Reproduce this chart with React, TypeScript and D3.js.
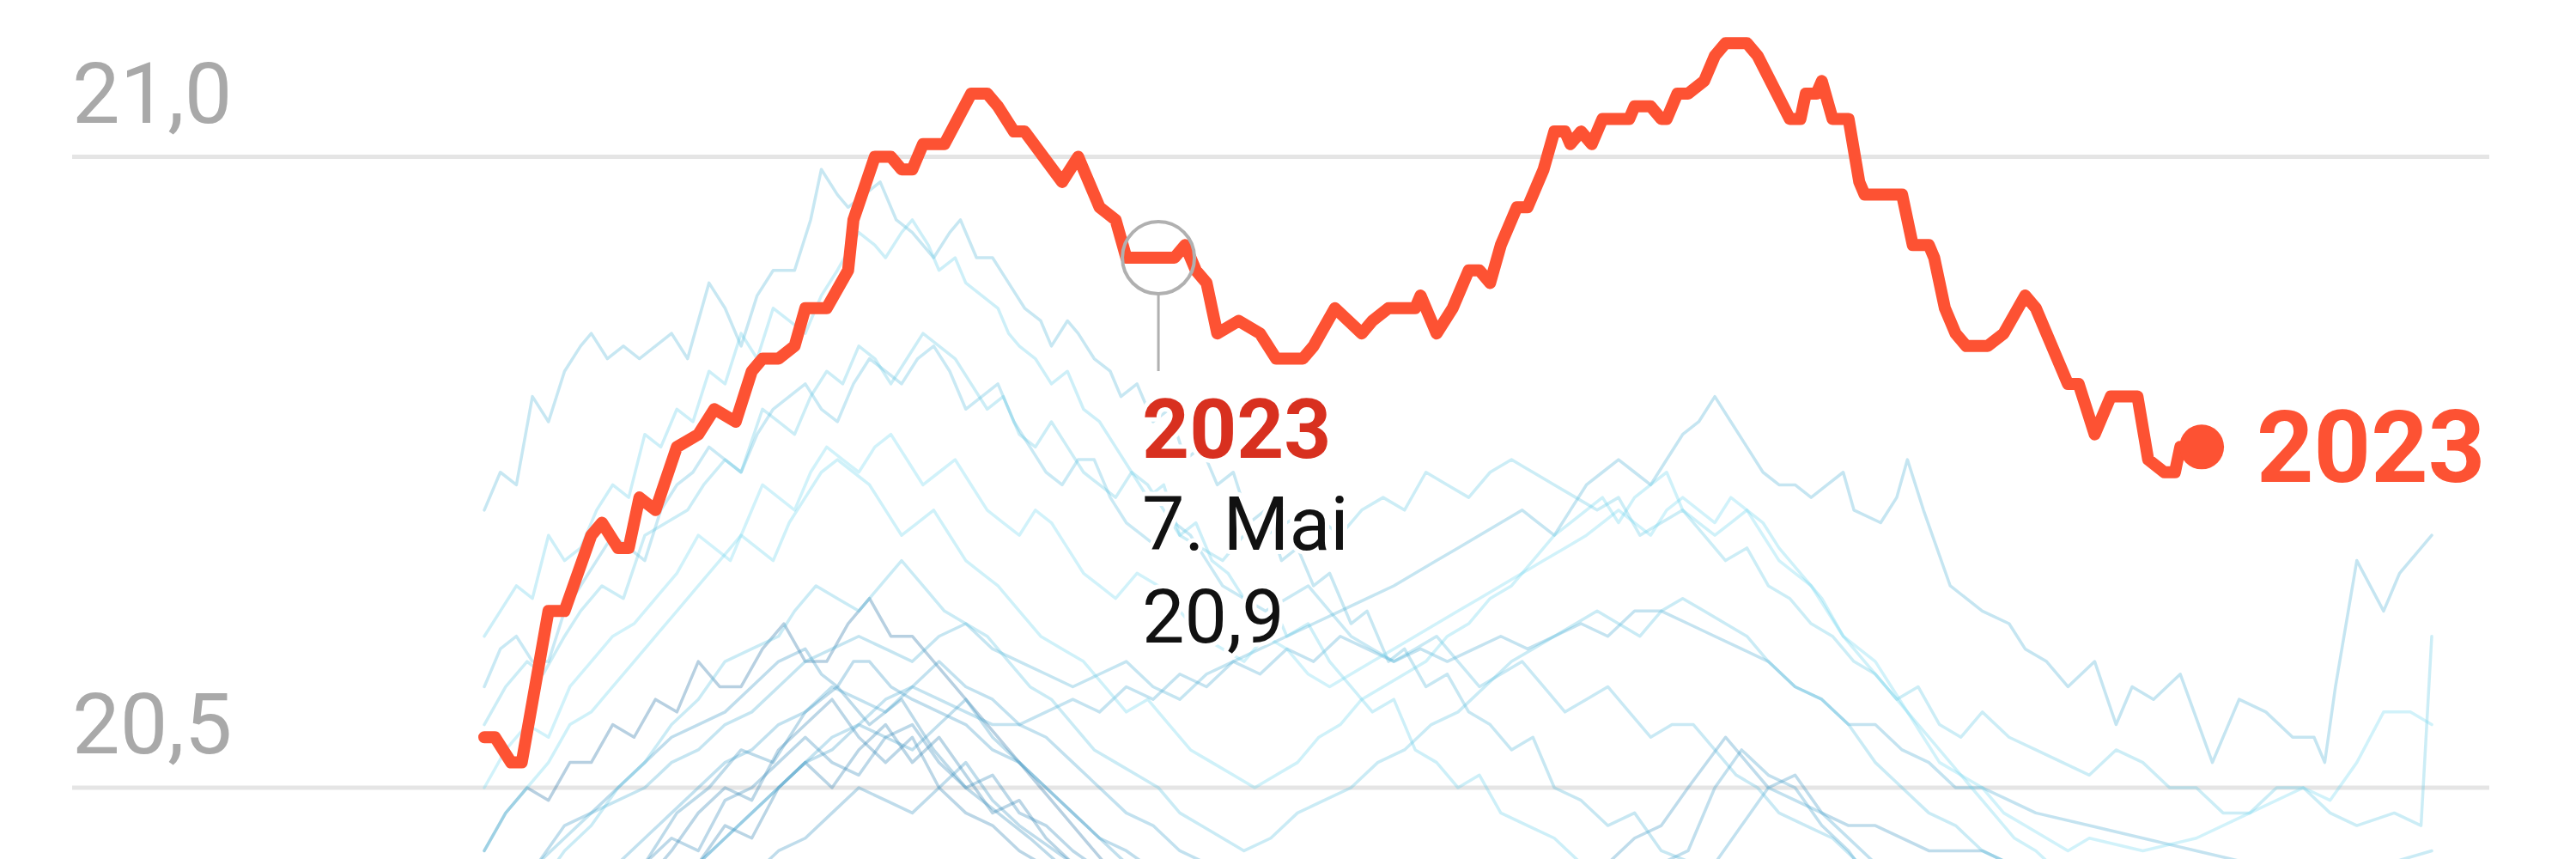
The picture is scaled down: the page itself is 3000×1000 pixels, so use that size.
import React from "react";
import * as d3 from "d3";

// ---------- data ----------
const yTickValues = [21.0, 20.5];
const yTickLabels = ["21,0", "20,5"];

// 2023 daily world sea surface temperature, [day of year (0 = 1 Jan), °C]
const series2023: [number, number][] = [
  [0, 20.54], [2, 20.54], [5, 20.52], [7, 20.52], [12, 20.64], [15, 20.64], [20, 20.7], [22, 20.71],
  [25, 20.69], [27, 20.69], [29, 20.73], [32, 20.72], [36, 20.77], [40, 20.78], [43, 20.8], [47, 20.79],
  [50, 20.83], [52, 20.84], [55, 20.84], [58, 20.85], [60, 20.88], [64, 20.88], [68, 20.91], [69, 20.95],
  [73, 21.0], [76, 21.0], [78, 20.99], [80, 20.99], [82, 21.01], [86, 21.01], [91, 21.05], [94, 21.05],
  [96, 21.04], [99, 21.02], [101, 21.02], [108, 20.98], [111, 21.0], [115, 20.96], [118, 20.95], [120, 20.92],
  [126, 20.92], [129, 20.92], [131, 20.93], [133, 20.91], [135, 20.9], [137, 20.86], [141, 20.87], [145, 20.86],
  [148, 20.84], [153, 20.84], [155, 20.85], [159, 20.88], [164, 20.86], [166, 20.87], [169, 20.88], [174, 20.88],
  [175, 20.89], [178, 20.86], [181, 20.88], [184, 20.91], [186, 20.91], [188, 20.9], [190, 20.93], [193, 20.96],
  [195, 20.96], [198, 20.99], [200, 21.02], [202, 21.02], [203, 21.01], [205, 21.02], [207, 21.01], [209, 21.03],
  [214, 21.03], [215, 21.04], [218, 21.04], [220, 21.03], [221, 21.03], [223, 21.05], [225, 21.05], [228, 21.06],
  [230, 21.08], [232, 21.09], [236, 21.09], [238, 21.08], [244, 21.03], [246, 21.03], [247, 21.05], [249, 21.05],
  [250, 21.06], [252, 21.03], [255, 21.03], [257, 20.98], [258, 20.97], [265, 20.97], [267, 20.93], [270, 20.93],
  [271, 20.92], [273, 20.88], [275, 20.86], [277, 20.85], [281, 20.85], [284, 20.86], [288, 20.89], [290, 20.88],
  [296, 20.82], [298, 20.82], [301, 20.78], [304, 20.81], [309, 20.81], [311, 20.76], [314, 20.75], [316, 20.75],
  [317, 20.77], [318, 20.77], [321, 20.77],
];

const s2016: [number, number][] = [
  [0, 20.72], [3, 20.75], [6, 20.74], [9, 20.81], [12, 20.79], [15, 20.83], [18, 20.85], [20, 20.86], [23, 20.84],
  [26, 20.85], [29, 20.84], [32, 20.85], [35, 20.86], [38, 20.84], [42, 20.9], [45, 20.88], [48, 20.85], [51, 20.89],
  [54, 20.91], [58, 20.91], [61, 20.95], [63, 20.99], [66, 20.97], [68, 20.96], [71, 20.97], [74, 20.98], [77, 20.95],
  [80, 20.94], [84, 20.92], [87, 20.94], [89, 20.95], [92, 20.92], [95, 20.92], [98, 20.9], [101, 20.88], [104, 20.87],
  [106, 20.85], [109, 20.87], [111, 20.86], [114, 20.84], [117, 20.83], [119, 20.81], [122, 20.82], [125, 20.79],
  [128, 20.8], [131, 20.76], [134, 20.77], [137, 20.74], [140, 20.75], [143, 20.71], [146, 20.72], [149, 20.68],
  [152, 20.69], [155, 20.66], [158, 20.67], [162, 20.63], [165, 20.64], [169, 20.6], [172, 20.61], [176, 20.58],
  [180, 20.59], [184, 20.56], [188, 20.55], [192, 20.53], [196, 20.54], [200, 20.5], [205, 20.49], [210, 20.47],
  [215, 20.48], [220, 20.45], [226, 20.44], [232, 20.42], [250, 20.4], [300, 20.38], [364, 20.42],
];
const s2020: [number, number][] = [
  [0, 20.62], [3, 20.64], [6, 20.66], [9, 20.65], [12, 20.7], [15, 20.68], [18, 20.69], [21, 20.72], [24, 20.74],
  [27, 20.73], [30, 20.78], [33, 20.77], [36, 20.8], [39, 20.79], [42, 20.83], [45, 20.82], [48, 20.86], [51, 20.84],
  [54, 20.88], [57, 20.87], [60, 20.86], [63, 20.89], [66, 20.91], [70, 20.94], [73, 20.93], [75, 20.92], [78, 20.94],
  [80, 20.95], [83, 20.93], [85, 20.91], [88, 20.92], [90, 20.9], [93, 20.89], [96, 20.88], [98, 20.86], [100, 20.85],
  [103, 20.84], [106, 20.82], [109, 20.83], [112, 20.8], [115, 20.79], [118, 20.77], [121, 20.75], [124, 20.73],
  [127, 20.74], [130, 20.7], [133, 20.71], [136, 20.68], [139, 20.67], [142, 20.65], [146, 20.66], [150, 20.62],
  [154, 20.63], [158, 20.6], [162, 20.58], [166, 20.56], [170, 20.57], [174, 20.53], [178, 20.52], [182, 20.5],
  [186, 20.51], [190, 20.48], [195, 20.47], [200, 20.46], [205, 20.44], [210, 20.42], [260, 20.38], [364, 20.36],
];
const s2019: [number, number][] = [
  [0, 20.55], [4, 20.58], [8, 20.6], [11, 20.59], [15, 20.62], [18, 20.64], [22, 20.66], [26, 20.65], [30, 20.7],
  [34, 20.71], [38, 20.72], [41, 20.74], [45, 20.76], [48, 20.75], [52, 20.8], [55, 20.79], [58, 20.78], [61, 20.81],
  [64, 20.83], [67, 20.82], [70, 20.85], [73, 20.84], [76, 20.82], [79, 20.84], [82, 20.86], [85, 20.85], [88, 20.84],
  [91, 20.82], [94, 20.8], [97, 20.81], [100, 20.78], [103, 20.77], [106, 20.79], [109, 20.77], [112, 20.75],
  [115, 20.74], [118, 20.73], [121, 20.75], [124, 20.74], [127, 20.72], [130, 20.7], [134, 20.69], [138, 20.68],
  [142, 20.7], [146, 20.7], [150, 20.71], [154, 20.72], [157, 20.71], [160, 20.7], [164, 20.72], [168, 20.73],
  [172, 20.72], [176, 20.75], [180, 20.74], [184, 20.73], [188, 20.75], [192, 20.76], [196, 20.75], [200, 20.74],
  [204, 20.73], [208, 20.72], [212, 20.73], [216, 20.7], [220, 20.71], [224, 20.72], [228, 20.7], [232, 20.68],
  [236, 20.69], [240, 20.66], [244, 20.65], [248, 20.63], [252, 20.62], [256, 20.6], [260, 20.59], [264, 20.57],
  [268, 20.58], [272, 20.55], [276, 20.54], [280, 20.56], [285, 20.54], [290, 20.53], [295, 20.52], [300, 20.51],
  [305, 20.53], [310, 20.52], [315, 20.5], [320, 20.5], [325, 20.48], [330, 20.48], [335, 20.5], [340, 20.5],
  [345, 20.48], [350, 20.47], [357, 20.48], [362, 20.47], [364, 20.62],
];
const s2017: [number, number][] = [
  [0, 20.58], [3, 20.61], [6, 20.62], [9, 20.6], [12, 20.6], [15, 20.64], [18, 20.66], [21, 20.68], [24, 20.7],
  [27, 20.69], [30, 20.68], [33, 20.72], [36, 20.74], [39, 20.75], [42, 20.77], [45, 20.76], [48, 20.75], [51, 20.78],
  [54, 20.8], [57, 20.81], [60, 20.82], [63, 20.8], [66, 20.79], [69, 20.82], [72, 20.84], [75, 20.83], [78, 20.82],
  [81, 20.84], [84, 20.85], [87, 20.83], [90, 20.8], [93, 20.81], [96, 20.82], [99, 20.79], [102, 20.77], [105, 20.75],
  [108, 20.74], [111, 20.76], [114, 20.76], [117, 20.73], [120, 20.71], [123, 20.7], [126, 20.69], [129, 20.71],
  [132, 20.7], [135, 20.68], [138, 20.66], [142, 20.65], [146, 20.64], [150, 20.65], [154, 20.66], [158, 20.64],
  [162, 20.62], [166, 20.61], [170, 20.6], [174, 20.61], [178, 20.62], [182, 20.6], [186, 20.58], [190, 20.59],
  [194, 20.6], [198, 20.58], [202, 20.56], [206, 20.57], [210, 20.58], [214, 20.56], [218, 20.54], [222, 20.55],
  [226, 20.55], [230, 20.53], [234, 20.51], [238, 20.5], [242, 20.48], [247, 20.47], [252, 20.46], [257, 20.44],
  [262, 20.43], [280, 20.4], [300, 20.41], [330, 20.4], [364, 20.42],
];
const s2022: [number, number][] = [
  [0, 20.5], [4, 20.53], [8, 20.55], [12, 20.54], [16, 20.58], [20, 20.6], [24, 20.62], [28, 20.63], [32, 20.65],
  [36, 20.67], [40, 20.7], [43, 20.69], [46, 20.68], [49, 20.71], [52, 20.74], [55, 20.73], [58, 20.72], [61, 20.75],
  [64, 20.77], [67, 20.76], [70, 20.75], [73, 20.77], [76, 20.78], [79, 20.76], [82, 20.74], [85, 20.75], [88, 20.76],
  [91, 20.74], [94, 20.72], [97, 20.71], [100, 20.7], [103, 20.72], [106, 20.71], [109, 20.69], [112, 20.67],
  [115, 20.66], [118, 20.65], [122, 20.67], [126, 20.66], [130, 20.64], [134, 20.62], [138, 20.61], [142, 20.6],
  [146, 20.62], [150, 20.61], [154, 20.59], [158, 20.58], [162, 20.59], [166, 20.6], [170, 20.61], [174, 20.62],
  [178, 20.63], [182, 20.64], [186, 20.65], [190, 20.66], [194, 20.67], [198, 20.68], [202, 20.69], [206, 20.7],
  [209, 20.71], [212, 20.72], [215, 20.71], [218, 20.7], [221, 20.72], [224, 20.73], [227, 20.72], [230, 20.71],
  [233, 20.73], [236, 20.72], [239, 20.7], [242, 20.68], [245, 20.67], [248, 20.66], [251, 20.64], [254, 20.62],
  [257, 20.61], [260, 20.6], [263, 20.58], [266, 20.56], [269, 20.54], [272, 20.52], [276, 20.51], [280, 20.5],
  [284, 20.48], [288, 20.47], [292, 20.46], [296, 20.45], [300, 20.46], [310, 20.45], [320, 20.46], [330, 20.48],
  [340, 20.5], [345, 20.49], [350, 20.52], [355, 20.56], [360, 20.56], [364, 20.55],
];
const s2015: [number, number][] = [
  [0, 20.4], [10, 20.44], [15, 20.46], [20, 20.48], [25, 20.49], [30, 20.5], [35, 20.52], [40, 20.53], [45, 20.55],
  [50, 20.56], [55, 20.58], [60, 20.6], [65, 20.61], [70, 20.62], [75, 20.61], [80, 20.6], [85, 20.62], [90, 20.63],
  [95, 20.61], [100, 20.6], [105, 20.59], [110, 20.58], [115, 20.59], [120, 20.6], [125, 20.58], [130, 20.57],
  [135, 20.59], [140, 20.6], [145, 20.61], [150, 20.62], [155, 20.63], [160, 20.64], [165, 20.65], [170, 20.66],
  [174, 20.67], [178, 20.68], [182, 20.69], [186, 20.7], [190, 20.71], [194, 20.72], [197, 20.71], [200, 20.7],
  [203, 20.72], [206, 20.74], [209, 20.75], [212, 20.76], [215, 20.75], [218, 20.74], [221, 20.76], [224, 20.78],
  [227, 20.79], [230, 20.81], [233, 20.79], [236, 20.77], [239, 20.75], [242, 20.74], [245, 20.74], [248, 20.73],
  [251, 20.74], [254, 20.75], [256, 20.72], [261, 20.71], [264, 20.73], [266, 20.76], [269, 20.72], [274, 20.66],
  [280, 20.64], [285, 20.63], [288, 20.61], [292, 20.6], [296, 20.58], [301, 20.6], [305, 20.55], [308, 20.58],
  [312, 20.57], [317, 20.59], [323, 20.52], [328, 20.57], [333, 20.56], [338, 20.54], [342, 20.54], [344, 20.52],
  [346, 20.58], [350, 20.68], [355, 20.64], [358, 20.67], [364, 20.7],
];
const s2021: [number, number][] = [
  [0, 20.45], [4, 20.48], [8, 20.5], [12, 20.52], [16, 20.55], [20, 20.56], [24, 20.58], [28, 20.6], [32, 20.62],
  [36, 20.64], [40, 20.66], [44, 20.68], [48, 20.7], [51, 20.69], [54, 20.68], [57, 20.71], [60, 20.73], [63, 20.75],
  [66, 20.76], [69, 20.75], [72, 20.74], [75, 20.72], [78, 20.7], [81, 20.71], [84, 20.72], [87, 20.7], [90, 20.68],
  [93, 20.67], [96, 20.66], [100, 20.64], [104, 20.62], [108, 20.61], [112, 20.6], [116, 20.58], [120, 20.56],
  [124, 20.57], [128, 20.55], [132, 20.53], [136, 20.52], [140, 20.51], [144, 20.5], [148, 20.51], [152, 20.52],
  [156, 20.54], [160, 20.55], [164, 20.57], [168, 20.58], [172, 20.59], [176, 20.6], [180, 20.62], [184, 20.63],
  [188, 20.65], [192, 20.66], [196, 20.68], [200, 20.7], [203, 20.71], [206, 20.72], [209, 20.73], [212, 20.71],
  [215, 20.73], [218, 20.74], [221, 20.75], [224, 20.72], [227, 20.71], [230, 20.7], [233, 20.71], [236, 20.72],
  [239, 20.71], [242, 20.69], [246, 20.67], [250, 20.65], [254, 20.62], [258, 20.6], [262, 20.58], [266, 20.56],
  [270, 20.54], [274, 20.52], [278, 20.5], [282, 20.48], [286, 20.46], [290, 20.45], [295, 20.43], [300, 20.42],
  [320, 20.38], [364, 20.35],
];
const s2018: [number, number][] = [
  [0, 20.38], [10, 20.42], [15, 20.45], [20, 20.47], [25, 20.5], [30, 20.52], [35, 20.55], [40, 20.57], [45, 20.6],
  [50, 20.61], [55, 20.62], [58, 20.64], [62, 20.66], [66, 20.65], [70, 20.64], [74, 20.66], [78, 20.68], [82, 20.66],
  [86, 20.64], [90, 20.63], [94, 20.62], [98, 20.6], [102, 20.58], [106, 20.57], [110, 20.55], [114, 20.53],
  [118, 20.52], [122, 20.51], [126, 20.5], [130, 20.48], [134, 20.47], [138, 20.46], [142, 20.45], [147, 20.46],
  [152, 20.48], [157, 20.49], [162, 20.5], [167, 20.52], [172, 20.53], [177, 20.55], [182, 20.56], [187, 20.58],
  [192, 20.6], [196, 20.61], [200, 20.62], [204, 20.63], [208, 20.64], [212, 20.63], [216, 20.62], [220, 20.64],
  [224, 20.65], [228, 20.64], [232, 20.63], [236, 20.62], [240, 20.6], [245, 20.58], [250, 20.57], [255, 20.55],
  [260, 20.52], [265, 20.5], [270, 20.48], [275, 20.47], [280, 20.45], [285, 20.44], [290, 20.42], [310, 20.4],
  [340, 20.42], [364, 20.45],
];
const s2014: [number, number][] = [
  [0, 20.35], [30, 20.4], [40, 20.44], [45, 20.46], [50, 20.48], [55, 20.5], [60, 20.52], [65, 20.54], [70, 20.55],
  [75, 20.57], [80, 20.58], [85, 20.57], [90, 20.56], [95, 20.55], [100, 20.55], [105, 20.56], [110, 20.57],
  [115, 20.56], [120, 20.58], [125, 20.57], [130, 20.59], [135, 20.58], [140, 20.6], [145, 20.59], [150, 20.61],
  [155, 20.6], [160, 20.62], [165, 20.61], [170, 20.6], [175, 20.61], [180, 20.6], [185, 20.61], [190, 20.62],
  [195, 20.61], [200, 20.62], [205, 20.63], [210, 20.62], [215, 20.64], [220, 20.64], [225, 20.63], [230, 20.62],
  [235, 20.61], [240, 20.6], [245, 20.58], [250, 20.57], [255, 20.55], [260, 20.55], [265, 20.53], [270, 20.52],
  [275, 20.5], [280, 20.5], [285, 20.49], [290, 20.48], [300, 20.47], [310, 20.46], [320, 20.45], [330, 20.44],
  [340, 20.43], [364, 20.4],
];
const s2013: [number, number][] = [
  [0, 20.35], [20, 20.42], [25, 20.44], [30, 20.46], [35, 20.48], [40, 20.5], [45, 20.52], [50, 20.53], [55, 20.55],
  [60, 20.56], [65, 20.58], [70, 20.57], [75, 20.56], [80, 20.58], [85, 20.6], [90, 20.58], [95, 20.57], [100, 20.55],
  [105, 20.54], [110, 20.52], [115, 20.5], [120, 20.48], [125, 20.47], [130, 20.45], [135, 20.44], [150, 20.42],
  [200, 20.4], [220, 20.42], [230, 20.44], [235, 20.47], [240, 20.5], [245, 20.49], [250, 20.48], [260, 20.44],
  [270, 20.4], [364, 20.3],
];
const s2012: [number, number][] = [
  [0, 20.3], [30, 20.4], [40, 20.44], [45, 20.46], [50, 20.48], [55, 20.5], [60, 20.52], [65, 20.53], [70, 20.55],
  [75, 20.54], [80, 20.53], [85, 20.55], [90, 20.57], [95, 20.54], [100, 20.52], [105, 20.5], [110, 20.48],
  [120, 20.44], [130, 20.42], [200, 20.35], [215, 20.42], [220, 20.44], [225, 20.45], [230, 20.5], [235, 20.53],
  [240, 20.51], [245, 20.5], [250, 20.47], [255, 20.45], [260, 20.42], [364, 20.3],
];
const s2010: [number, number][] = [
  [0, 20.4], [5, 20.43], [10, 20.44], [15, 20.47], [20, 20.48], [25, 20.5], [30, 20.52], [35, 20.54], [40, 20.55],
  [45, 20.56], [50, 20.58], [55, 20.6], [60, 20.61], [63, 20.59], [66, 20.58], [69, 20.6], [72, 20.6], [76, 20.58],
  [80, 20.57], [85, 20.56], [90, 20.55], [95, 20.53], [100, 20.52], [105, 20.5], [110, 20.48], [115, 20.46],
  [120, 20.45], [130, 20.42], [140, 20.4], [200, 20.3], [364, 20.2],
];
const s2009: [number, number][] = [
  [0, 20.3], [40, 20.4], [50, 20.43], [55, 20.45], [60, 20.46], [65, 20.48], [70, 20.5], [75, 20.49], [80, 20.48],
  [85, 20.5], [90, 20.52], [95, 20.49], [100, 20.47], [110, 20.44], [120, 20.42], [180, 20.4], [200, 20.42],
  [210, 20.44], [215, 20.46], [220, 20.47], [225, 20.5], [232, 20.54], [236, 20.52], [240, 20.5], [245, 20.51],
  [250, 20.48], [255, 20.47], [260, 20.47], [270, 20.45], [280, 20.45], [290, 20.43], [300, 20.42], [364, 20.4],
];
const s2007: [number, number][] = [
  [0, 20.35], [20, 20.4], [30, 20.44], [36, 20.48], [42, 20.5], [48, 20.53], [54, 20.52], [60, 20.56], [66, 20.58],
  [72, 20.55], [78, 20.57], [84, 20.53], [90, 20.5], [96, 20.48], [102, 20.46], [110, 20.43], [140, 20.38],
  [364, 20.25],
];
const s2005: [number, number][] = [
  [0, 20.35], [20, 20.4], [30, 20.44], [35, 20.46], [40, 20.45], [45, 20.49], [50, 20.5], [55, 20.52], [60, 20.54],
  [65, 20.52], [70, 20.51], [75, 20.54], [80, 20.55], [85, 20.52], [90, 20.5], [95, 20.51], [100, 20.48],
  [105, 20.47], [110, 20.45], [120, 20.42], [140, 20.38], [364, 20.25],
];
const s2003: [number, number][] = [
  [0, 20.32], [25, 20.4], [35, 20.45], [40, 20.48], [45, 20.5], [50, 20.49], [55, 20.53], [60, 20.55], [65, 20.57],
  [70, 20.54], [75, 20.52], [80, 20.54], [85, 20.5], [90, 20.48], [95, 20.47], [100, 20.45], [120, 20.4],
  [364, 20.28],
];
const s2002: [number, number][] = [
  [0, 20.3], [30, 20.4], [40, 20.44], [45, 20.47], [50, 20.46], [55, 20.5], [60, 20.52], [65, 20.5], [70, 20.53],
  [75, 20.55], [80, 20.52], [85, 20.54], [90, 20.51], [95, 20.48], [100, 20.49], [105, 20.46], [110, 20.44],
  [130, 20.4], [364, 20.25],
];
const s1998: [number, number][] = [
  [0, 20.45], [4, 20.48], [8, 20.5], [12, 20.49], [16, 20.52], [20, 20.52], [24, 20.55], [28, 20.54], [32, 20.57],
  [36, 20.56], [40, 20.6], [44, 20.58], [48, 20.58], [52, 20.61], [56, 20.63], [60, 20.6], [64, 20.6], [68, 20.63],
  [72, 20.65], [76, 20.62], [80, 20.62], [84, 20.6], [88, 20.58], [92, 20.56], [96, 20.54], [100, 20.52],
  [104, 20.5], [108, 20.48], [112, 20.46], [116, 20.44], [120, 20.43], [140, 20.38], [200, 20.3], [364, 20.15],
];

const pastYears = [1998, 2002, 2003, 2005, 2007, 2009, 2010, 2012, 2013, 2014, 2015, 2016, 2017, 2018, 2019, 2020, 2021, 2022];
const pastSeries = [s1998, s2002, s2003, s2005, s2007, s2009, s2010, s2012, s2013, s2014, s2015, s2016, s2017, s2018, s2019, s2020, s2021, s2022];

const highlightYear = "2023";
const annotationDay = 126;
const annotationValue = 20.92;
const annotationDate = "7. Mai";
const annotationValueLabel = "20,9";

// ---------- chart ----------
const W = 3000;
const H = 1000;

export default function App() {
  const x = d3.scaleLinear().domain([0, 364]).range([564, 2832]);
  const y = d3.scaleLinear().domain([20.5, 21.0]).range([917, 182.5]);
  const line = d3
    .line<[number, number]>()
    .x((d) => x(d[0]))
    .y((d) => y(d[1]));

  const yearColor = d3
    .scaleLinear<string>()
    .domain([1998, 2012, 2022])
    .range(["#1f6ea3", "#3d9cc8", "#6fd8f0"])
    .interpolate(d3.interpolateRgb);

  const last = series2023[series2023.length - 1];
  const lx = x(last[0]);
  const ly = y(last[1]);
  const ax = x(annotationDay);
  const ay = y(annotationValue);
  const r = 42;

  return (
    <svg
      width={W}
      height={H}
      style={{ position: "absolute", left: 0, top: 0, background: "#fff" }}
      fontFamily="Roboto, 'Noto Sans', sans-serif"
    >
      <rect x={0} y={0} width={W} height={H} fill="#fff" />
      {yTickValues.map((v, i) => (
        <g key={v}>
          <line x1={84} x2={2899} y1={y(v)} y2={y(v)} stroke="#e5e5e5" strokeWidth={5} />
          <text x={84} y={y(v) - 40} fontSize={99} fill="#a9a9a9">
            {yTickLabels[i]}
          </text>
        </g>
      ))}
      <g fill="none" strokeLinejoin="round" strokeLinecap="round">
        {pastSeries.map((s, i) => (
          <path
            key={pastYears[i]}
            d={line(s) ?? ""}
            stroke={yearColor(pastYears[i])}
            strokeOpacity={0.32}
            strokeWidth={3.5}
          />
        ))}
      </g>
      <path
        d={line(series2023) ?? ""}
        fill="none"
        stroke="#fd5233"
        strokeWidth={14}
        strokeLinejoin="round"
        strokeLinecap="round"
      />
      <circle cx={lx} cy={ly} r={26} fill="#fd5233" />
      <text x={lx + 64} y={ly + 41} fontSize={116} fontWeight={700} fill="#fd5233">
        {highlightYear}
      </text>

      {/* annotation */}
      <circle cx={ax} cy={ay} r={r} fill="none" stroke="#b0b0b0" strokeWidth={4} />
      <line x1={ax} x2={ax} y1={ay + r} y2={ay + 132} stroke="#b0b0b0" strokeWidth={3} />
      <g style={{ paintOrder: "stroke" }} stroke="#fff" strokeWidth={10} strokeLinejoin="round">
        <text x={ax - 19} y={ay + 233} fontSize={96} fontWeight={700} fill="#d8301f">
          {highlightYear}
        </text>
        <text x={ax - 19} y={ay + 340} fontSize={88} fill="#111">
          {annotationDate}
        </text>
        <text x={ax - 19} y={ay + 448} fontSize={88} fill="#111">
          {annotationValueLabel}
        </text>
      </g>
    </svg>
  );
}
